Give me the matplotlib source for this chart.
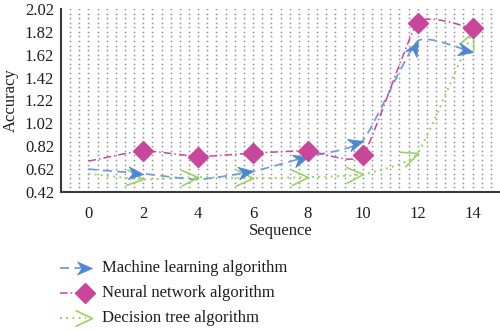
import numpy as np
import matplotlib
matplotlib.use("Agg")
import matplotlib.pyplot as plt
from matplotlib.path import Path
from matplotlib.patches import PathPatch
from matplotlib.markers import MarkerStyle
from matplotlib.transforms import Affine2D
from matplotlib.lines import Line2D

# ---- data ----
sequence = [0, 2, 4, 6, 8, 10, 12, 14]
machine_learning = [0.62, 0.58, 0.53, 0.60, 0.73, 0.87, 1.74, 1.64]
neural_network = [0.69, 0.78, 0.73, 0.76, 0.78, 0.74, 1.90, 1.85]
decision_tree = [0.58, 0.53, 0.55, 0.54, 0.55, 0.575, 0.76, 1.82]
series_names = ["Machine learning algorithm", "Neural network algorithm",
                "Decision tree algorithm"]
y_ticks = [0.42, 0.62, 0.82, 1.02, 1.22, 1.42, 1.62, 1.82, 2.02]

plt.rcParams["font.family"] = ["Liberation Serif", "DejaVu Serif"]
plt.rcParams["font.size"] = 12

BLUE_LINE = "#6f9fdc"
BLUE_MARK = "#4f86d3"
PINK = "#c8479a"
GREEN = "#98d460"
TEXT = "#1e1e1e"

fig = plt.figure(figsize=(5.0, 3.3), dpi=100)
ax = fig.add_axes([61 / 500, (330 - 192) / 330, (500 - 61) / 500, (192 - 9) / 330])
ax.set_xlim(-1, 15)
ax.set_ylim(0.42, 2.02)

# dotted background grid
gx = np.arange(1, 48) / 3.0 - 1
gy = 0.42 + np.arange(1, 41) * 0.04
GX, GY = np.meshgrid(gx, gy)
ax.plot(GX.ravel(), GY.ravel(), ls="none", marker="s", ms=1.1, mew=0,
        color="#8e8e8e", zorder=0)


def smooth_path(xs, ys, tension=12.0):
    """Cardinal-spline style cubic Bezier through the points."""
    p = np.column_stack([xs, ys]).astype(float)
    ext = np.vstack([p[0], p, p[-1]])
    verts = [p[0]]
    codes = [Path.MOVETO]
    for i in range(len(p) - 1):
        p0, p1, p2, p3 = ext[i], ext[i + 1], ext[i + 2], ext[i + 3]
        c1 = p1 + (p2 - p0) / tension
        c2 = p2 - (p3 - p1) / tension
        verts += [c1, c2, p2]
        codes += [Path.CURVE4] * 3
    return Path(verts, codes)


# marker shapes, tip at the origin pointing along +x
stealth = Path([(0, 0), (-15, 6.5), (-10.5, 0), (-15, -6.5), (0, 0)],
               [Path.MOVETO, Path.LINETO, Path.LINETO, Path.LINETO, Path.CLOSEPOLY])
chevron = Path([(-17, 8), (0, 0), (-17, -8)],
               [Path.MOVETO, Path.LINETO, Path.LINETO])
STEALTH_MS = 21.5
CHEVRON_MS = 24.5
DIAMOND_MS = 10.5


def draw_series(ys, color, ls, lw, kind, skip=()):
    path = smooth_path(sequence, ys)
    ax.add_patch(PathPatch(path, facecolor="none", edgecolor=color,
                           lw=lw, ls=ls, zorder=2))
    disp = ax.transData.transform(np.column_stack([sequence, ys]))
    for i in range(1, len(sequence)):
        if i in skip:
            continue
        d = disp[i] - disp[i - 1]
        ang = np.degrees(np.arctan2(d[1], d[0]))
        if kind == "stealth":
            m = MarkerStyle(stealth, transform=Affine2D().rotate_deg(ang))
            ax.plot(sequence[i], ys[i], ls="none", marker=m, ms=STEALTH_MS,
                    mfc=BLUE_MARK, mec=BLUE_MARK, mew=0.5, zorder=4)
        elif kind == "chevron":
            m = MarkerStyle(chevron, transform=Affine2D().rotate_deg(ang))
            ax.plot(sequence[i], ys[i], ls="none", marker=m, ms=CHEVRON_MS,
                    mfc="none", mec=GREEN, mew=1.2, zorder=3)
        else:
            ax.plot(sequence[i], ys[i], ls="none", marker="D", ms=DIAMOND_MS,
                    mfc=PINK, mec=PINK, zorder=4)


draw_series(decision_tree, GREEN, (0, (1, 2.2)), 1.4, "chevron")
draw_series(machine_learning, BLUE_LINE, (0, (5, 3)), 1.3, "stealth", skip=(2,))
draw_series(neural_network, PINK, (0, (5, 2, 1, 2)), 1.1, "diamond")

# axes styling
for side in ("top", "right"):
    ax.spines[side].set_visible(False)
for side in ("left", "bottom"):
    ax.spines[side].set_color("#3a3a3a")
    ax.spines[side].set_linewidth(1.5)
ax.set_xticks(sequence)
ax.set_yticks(y_ticks)
ax.set_yticklabels([f"{v:.2f}" for v in y_ticks])
ax.tick_params(axis="both", length=0, labelsize=12, colors=TEXT)
ax.tick_params(axis="x", pad=10)
ax.tick_params(axis="y", pad=5)
ax.set_xlabel("Sequence", fontsize=12, color=TEXT, labelpad=1)
ax.set_ylabel("Accuracy", fontsize=12, color=TEXT, labelpad=4)

# legend drawn beneath the axes
legend_rows = [268, 293, 318]
styles = [
    (BLUE_LINE, (0, (5, 3)), 1.3, "stealth"),
    (PINK, (0, (5, 2, 1, 2)), 1.1, "diamond"),
    (GREEN, (0, (1, 2.2)), 1.4, "chevron"),
]
W, H = 500.0, 330.0
for name, yrow, (col, ls, lw, kind) in zip(series_names, legend_rows, styles):
    yf = 1 - yrow / H
    fig.add_artist(Line2D([60 / W, 86 / W], [yf, yf], color=col, ls=ls, lw=lw,
                          transform=fig.transFigure))
    if kind == "stealth":
        fig.add_artist(Line2D([92 / W], [yf], ls="none", marker=stealth, ms=STEALTH_MS,
                              mfc=BLUE_MARK, mec=BLUE_MARK, mew=0.5,
                              transform=fig.transFigure))
    elif kind == "chevron":
        fig.add_artist(Line2D([92 / W], [yf], ls="none", marker=chevron, ms=CHEVRON_MS,
                              mfc="none", mec=GREEN, mew=1.2,
                              transform=fig.transFigure))
    else:
        fig.add_artist(Line2D([85 / W], [yf], ls="none", marker="D", ms=DIAMOND_MS,
                              mfc=PINK, mec=PINK, transform=fig.transFigure))
    fig.text(102 / W, yf, name, fontsize=12, color=TEXT,
             ha="left", va="center")

fig.savefig("out.png", dpi=100)
